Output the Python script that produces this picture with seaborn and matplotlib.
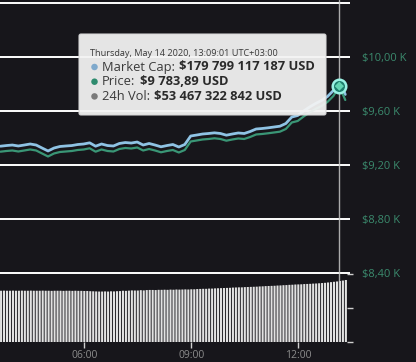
import numpy as np
import pandas as pd
import matplotlib
matplotlib.use("Agg")
import matplotlib.pyplot as plt
from matplotlib.patches import FancyBboxPatch
import seaborn as sns

# ---------------- data ----------------
line_times = pd.date_range("2020-05-14 03:39", periods=59, freq="10min")
price = [9298.5, 9303.7, 9307.4, 9300.0, 9307.4, 9314.8, 9307.4, 9285.2, 9263.0, 9285.2,
         9296.3, 9300.0, 9303.7, 9311.1, 9314.8, 9323.7, 9298.5, 9314.8, 9303.7, 9300.0,
         9318.5, 9326.0, 9322.2, 9329.6, 9307.4, 9318.5, 9307.4, 9294.1, 9303.7, 9311.1,
         9292.6, 9311.1, 9374.1, 9381.5, 9388.9, 9392.6, 9397.8, 9392.6, 9380.0, 9388.9,
         9396.3, 9392.6, 9407.4, 9426.0, 9429.6, 9434.8, 9440.7, 9446.7, 9466.7, 9514.8,
         9526.0, 9559.3, 9588.9, 9614.8, 9637.0, 9666.7, 9711.1, 9783.89, 9681.5]
market_cap_b = [170.88, 170.97, 171.04, 170.91, 171.04, 171.18, 171.04, 170.63, 170.23, 170.63,
                170.84, 170.91, 170.97, 171.11, 171.18, 171.34, 170.88, 171.18, 170.97, 170.91,
                171.25, 171.38, 171.31, 171.45, 171.04, 171.25, 171.04, 170.80, 170.97, 171.11,
                170.77, 171.11, 172.27, 172.40, 172.54, 172.61, 172.70, 172.61, 172.38, 172.54,
                172.68, 172.61, 172.88, 173.22, 173.29, 173.38, 173.49, 173.60, 173.97, 174.85,
                175.06, 175.67, 176.22, 176.69, 177.10, 177.64, 178.46, 179.80, 177.92]

vol_times = pd.date_range("2020-05-14 03:40", periods=117, freq="5min")
volume_b = [45.3, 45.4, 45.3, 45.3, 45.4, 45.3, 45.3, 45.4, 45.3, 45.3,
            45.4, 45.3, 45.3, 45.3, 45.4, 45.3, 45.3, 45.2, 45.3, 45.3,
            45.3, 45.2, 45.3, 45.3, 45.2, 45.3, 45.2, 45.2, 45.1, 45.1,
            44.9, 44.8, 44.7, 44.6, 44.6, 44.7, 44.6, 44.8, 44.7, 44.9,
            45.0, 45.3, 45.2, 45.4, 45.6, 45.5, 45.5, 45.8, 45.6, 45.9,
            46.0, 46.0, 45.9, 46.1, 46.1, 46.2, 46.1, 46.3, 46.2, 46.4,
            46.3, 46.4, 46.5, 46.4, 46.6, 46.6, 46.8, 46.9, 47.0, 47.0,
            47.2, 47.2, 47.4, 47.5, 47.6, 47.7, 47.8, 47.9, 48.1, 48.2,
            48.3, 48.3, 48.5, 48.6, 48.7, 48.8, 48.9, 49.1, 49.2, 49.4,
            49.5, 49.6, 49.7, 49.9, 50.0, 50.2, 50.3, 50.5, 50.6, 50.8,
            50.9, 51.0, 51.2, 51.3, 51.4, 51.6, 51.7, 51.9, 52.1, 52.3,
            52.6, 52.9, 53.2, 53.5, 53.9, 54.3, 54.8]

price_ticks = [8400, 8800, 9200, 9600, 10000, 10400]
price_tick_labels = ["$8,40 K", "$8,80 K", "$9,20 K", "$9,60 K", "$10,00 K", ""]
time_ticks = [6, 9, 12]
time_tick_labels = ["06:00", "09:00", "12:00"]
volume_ticks = [0, 30, 60]

hover_time = "13:09"
tooltip_header = "Thursday, May 14 2020, 13:09:01 UTC+03:00"
tooltip_rows = [("Market Cap:", "$179 799 117 187 USD", "#7fa9cc"),
                ("Price:", "$9 783,89 USD", "#2e8b6e"),
                ("24h Vol:", "$53 467 322 842 USD", "#7a7a7a")]
hover_price = 9783.89

# ---------------- style ----------------
BG = "#17161b"
sns.set_theme(style="dark", rc={"axes.facecolor": BG, "figure.facecolor": BG})
plt.rcParams["font.family"] = ["Open Sans", "DejaVu Sans"]

W, H = 416, 362
fig = plt.figure(figsize=(W / 100, H / 100), dpi=100)
ax = fig.add_axes([0, 20 / H, 350 / W, 342 / H])
ax.set_facecolor(BG)


def to_hours(ts):
    return np.array([t.hour + t.minute / 60 for t in ts])


lh = to_hours(line_times)
vh = to_hours(vol_times)
hh, hm = map(int, hover_time.split(":"))
hover_h = hh + hm / 60

# volume bars (twin axis)
ax2 = ax.twinx()
ax2.bar(vh, volume_b, width=3.5 / 60, color="#e2e2e2", linewidth=0, snap=False)
ax2.set_ylim(0, 302.2)
ax2.set_yticks(volume_ticks)
ax2.set_yticklabels([])
ax2.tick_params(axis="y", right=True, direction="inout", length=5, width=1,
                colors="#cfcfcf")
ax2.set_ylabel("")
ax2.grid(False)

# market cap line (twin axis)
ax3 = ax.twinx()
sns.lineplot(x=lh, y=market_cap_b, ax=ax3, color="#8fc3e4", linewidth=2.0)
ax3.set_ylim(144.23, 190.78)
ax3.set_yticks([])
ax3.grid(False)

# price line
sns.lineplot(x=lh, y=price, ax=ax, color="#3a9676", linewidth=1.6, zorder=3)
ax.set_ylim(7889, 10422)
ax.set_xlim(3.6366, 13.449)
ax.set_yticks(price_ticks)
ax.set_yticklabels(price_tick_labels)
ax.yaxis.tick_right()
ax.tick_params(axis="y", length=0, pad=9, labelsize=8, labelcolor="#3b8a6d")
ax.set_xticks(time_ticks)
ax.set_xticklabels(time_tick_labels)
ax.tick_params(axis="x", bottom=True, length=4, width=1, color="#d0d0d0",
               pad=2, labelsize=7.5, labelcolor="#8c8c8c")
ax.grid(axis="y", color="white", linewidth=1.4)
ax.grid(axis="x", visible=False)
ax.set_xlabel("")
ax.set_ylabel("")
for a in (ax, ax2, ax3):
    for s in a.spines.values():
        s.set_visible(False)
ax.set_zorder(ax3.get_zorder() + 1)
ax.patch.set_visible(False)
ax2.set_zorder(-1)
fig.patch.set_facecolor(BG)

# crosshair + hover marker
ax.axvline(hover_h, color="#c6c6c6", linewidth=1, alpha=0.85, zorder=2)
sns.scatterplot(x=[hover_h], y=[hover_price], ax=ax, s=95, color="#1d7f6d",
                edgecolor="#9af2e4", linewidth=1.8, zorder=5, legend=False)
sns.scatterplot(x=[hover_h], y=[hover_price], ax=ax, s=22, marker="D",
                color="#64d6b4", edgecolor="none", zorder=6, legend=False)

# tooltip overlay (pixel coordinates)
ov = fig.add_axes([0, 0, 1, 1], zorder=20)
ov.set_xlim(0, W)
ov.set_ylim(H, 0)
ov.axis("off")
box = FancyBboxPatch((79, 34), 247, 81, boxstyle="round,pad=0,rounding_size=2",
                     facecolor="#f3f3f3", edgecolor="#d8d8d8", linewidth=0.8,
                     alpha=0.94)
ov.add_patch(box)
ov.text(90, 53, tooltip_header, fontsize=6.6, color="#3a3a3a", va="center", ha="left")
for i, (lab, val, col) in enumerate(tooltip_rows):
    y = 67 + i * 14.7
    ov.scatter([94.5], [y], s=22, color=col, edgecolor="none")
    t = ov.text(102, y, lab, fontsize=9.3, color="#3a3a3a", va="center", ha="left")
    ov.annotate(val, xy=(1, 0.5), xycoords=t, xytext=(3, 0), textcoords="offset points",
                fontsize=9.3, fontweight="bold", color="#2a2a2a", va="center", ha="left")

fig.savefig("out.png", dpi=100, facecolor=BG)
